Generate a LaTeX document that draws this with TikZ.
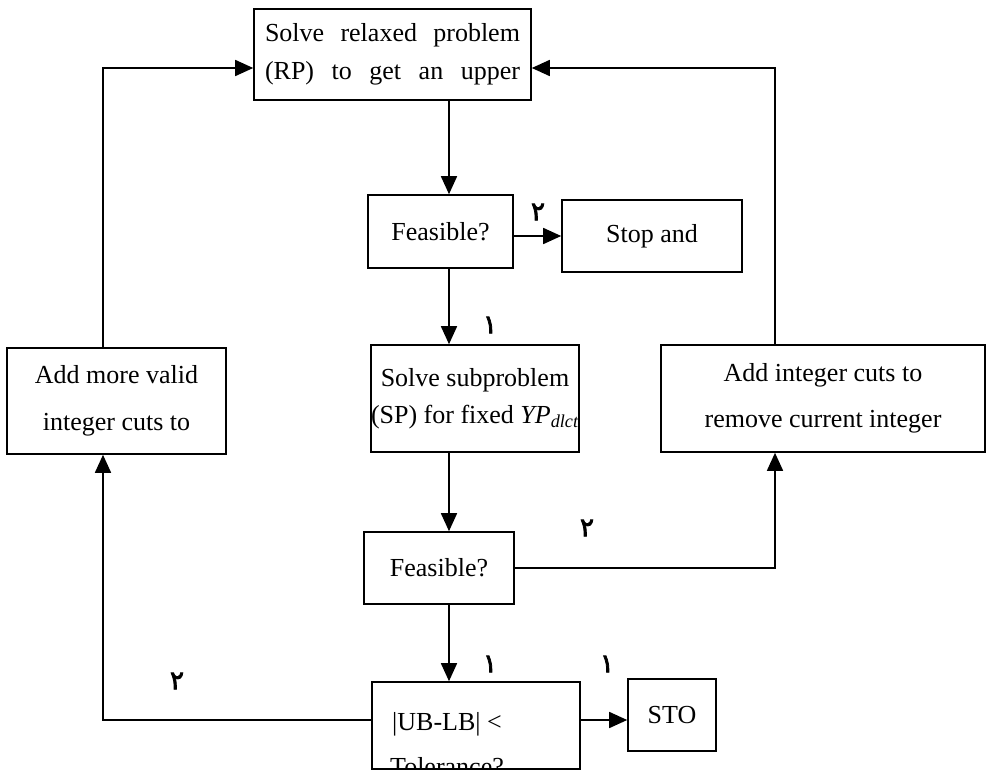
\documentclass[tikz,border=0pt]{standalone}
\usepackage{fontspec}
\setmainfont{Liberation Serif}
\newfontfamily\arabicfont[Script=Arabic,FakeBold=3]{DejaVu Sans}
\usetikzlibrary{arrows.meta,positioning}

\tikzset{
  box/.style={draw, line width=1.6pt, inner sep=0pt, align=center,
    font=\fontsize{26}{38}\selectfont},
  flow/.style={line width=1.6pt, -{Triangle[length=18pt,width=16pt]}},
  branch/.style={font=\arabicfont\fontsize{26}{26}\selectfont, inner sep=0pt},
}

\begin{document}
\begin{tikzpicture}[x=1pt,y=-1pt]
\clip (0,0) rectangle (986,771);

% guide lines of the flow
\coordinate (midx) at (449,0);
\coordinate (rightx) at (775,0);
\coordinate (leftx) at (103,0);
\coordinate (topy) at (0,68);
\coordinate (boty) at (0,720);

% boxes
\node[box, minimum width=277pt, minimum height=91pt, text width=255pt, align=left]
  (rp) at (392.5,54.5) {Solve\hfill relaxed\hfill problem\\(RP)\hfill to\hfill get\hfill an\hfill upper};
\node[box, minimum width=145pt, minimum height=73pt] (f1) at (440.5,231.5) {Feasible?};
\node[box, minimum width=180pt, minimum height=72pt] (stop) at (652,236) {Stop and};
\node[box, minimum width=206pt, minimum height=107pt, font=\fontsize{26}{37}\selectfont]
  (sp) at (475,398.5) {Solve subproblem\\(SP) for fixed \textit{YP}\textsubscript{\textit{dlct}}};
\node[box, minimum width=324pt, minimum height=107pt, font=\fontsize{26}{46}\selectfont]
  (add) at (823,398.5) {Add integer cuts to\\remove current integer};
\node[box, minimum width=219pt, minimum height=106pt, font=\fontsize{26}{47}\selectfont]
  (more) at (116.5,401) {Add more valid\\integer cuts to};
\node[box, minimum width=150pt, minimum height=72pt] (f2) at (439,568) {Feasible?};
\node[box, minimum width=208pt, minimum height=87pt] (tol) at (476,725.5) {};
\begin{scope}
  \clip (tol.north west) rectangle (tol.south east);
  \node[font=\fontsize{26}{45}\selectfont, align=center, inner sep=0pt]
    (tolText) at (447,744) {|UB-LB| <\\Tolerance?};
\end{scope}
\node[box, minimum width=88pt, minimum height=72pt] (sto) at (672,715) {STO};

% connectors
\draw[flow] (rp.south -| midx) -- (f1.north -| midx);
\draw[flow] (f1.east |- stop.west) -- (stop.west);
\draw[flow] (f1.south -| midx) -- (sp.north -| midx);
\draw[flow] (sp.south -| midx) -- (f2.north -| midx);
\draw[flow] (f2.south -| midx) -- (tol.north -| midx);
\draw[flow] (f2.east) -| (add.south -| rightx);
\draw[flow] (add.north -| rightx) |- (rp.east |- topy);
\draw[flow] (tol.west |- boty) -| (more.south -| leftx);
\draw[flow] (more.north -| leftx) |- (rp.west |- topy);
\draw[flow] (tol.east |- boty) -- (sto.west |- boty);

% branch marks
\node[branch] (noStop) at (538,212) {٢};
\node[branch] (yesSP) at (490,325) {١};
\node[branch] (noCut) at (587,528) {٢};
\node[branch] (yesTol) at (490,664) {١};
\node[branch] (yesSto) at (607,664) {١};
\node[branch] (noMore) at (177,681) {٢};
\end{tikzpicture}
\end{document}
